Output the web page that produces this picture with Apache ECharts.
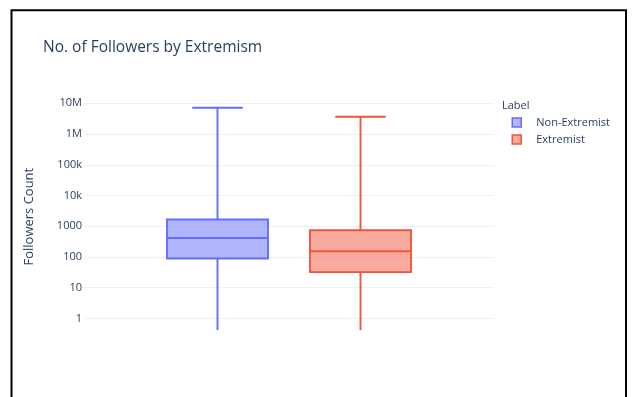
<!DOCTYPE html>
<html>
<head>
<meta charset="utf-8">
<title>No. of Followers by Extremism</title>
<script src="https://cdn.jsdelivr.net/npm/echarts@6/dist/echarts.min.js"></script>
<style>
  html, body { margin: 0; padding: 0; background: #ffffff; }
  #chart { width: 632px; height: 397px; }
</style>
</head>
<body>
<div id="chart"></div>
<script>
// Follower-count distribution per group (five-number summary)
const groups = ['Non-Extremist', 'Extremist'];
const whiskerLow = [0, 0];            // accounts with zero followers
const q1 = [89, 32];
const median = [416, 153];
const q3 = [1650, 741];
const whiskerHigh = [7200000, 3660000];

// Tick labels for each decade of the log axis, 10^0 .. 10^7
const tickLabels = ['1', '10', '100', '1000', '10k', '100k', '1M', '10M'];

const groupColors = ['#636efa', '#EF553B'];
const groupFills = ['rgba(99,110,250,0.5)', 'rgba(239,85,59,0.5)'];

const Y_MIN = 0.42;
const Y_MAX = 1e7;
const TEXT = '#2a3f5f';
const FONT = '"Open Sans", "Noto Sans", sans-serif';

// Grouped boxes share one category slot; each sits at a fixed offset in the band
const BOX_OFFSET = [-0.1744, 0.1744];
const BOX_WIDTH = 0.2463;
const LINE_W = 1.9;

function makeBoxRenderer(idx) {
  return function (params, api) {
    const band = api.size([1, 1], [0, 1])[0];
    const cx = api.coord([0, 1])[0] + BOX_OFFSET[idx] * band;
    const half = band * BOX_WIDTH / 2;
    const capHalf = half / 2;
    const yOf = (dim) => api.coord([0, Math.max(api.value(dim), Y_MIN)])[1];
    const yLow = yOf(1), yQ1 = yOf(2), yMed = yOf(3), yQ3 = yOf(4), yHigh = yOf(5);
    const stroke = groupColors[idx];
    const lineStyle = { stroke: stroke, lineWidth: LINE_W, fill: null };
    const children = [
      { type: 'line', shape: { x1: cx, y1: yQ3, x2: cx, y2: yHigh }, style: lineStyle },
      { type: 'line', shape: { x1: cx, y1: yQ1, x2: cx, y2: yLow }, style: lineStyle },
      { type: 'line', shape: { x1: cx - capHalf, y1: yHigh, x2: cx + capHalf, y2: yHigh }, style: lineStyle },
      { type: 'rect', shape: { x: cx - half, y: yQ3, width: 2 * half, height: yQ1 - yQ3 },
        style: { fill: groupFills[idx], stroke: stroke, lineWidth: LINE_W } },
      { type: 'line', shape: { x1: cx - half, y1: yMed, x2: cx + half, y2: yMed }, style: lineStyle }
    ];
    if (api.value(1) > Y_MIN) {
      children.push({ type: 'line', shape: { x1: cx - capHalf, y1: yLow, x2: cx + capHalf, y2: yLow }, style: lineStyle });
    }
    return { type: 'group', children: children };
  };
}

const series = groups.map(function (name, i) {
  return {
    name: name,
    type: 'custom',
    clip: true,
    itemStyle: { color: groupColors[i] },
    encode: { x: 0, y: [1, 2, 3, 4, 5] },
    data: [[0, whiskerLow[i], q1[i], median[i], q3[i], whiskerHigh[i]]],
    renderItem: makeBoxRenderer(i)
  };
});

function formatTick(v) {
  const e = Math.log10(v);
  const k = Math.round(e);
  if (Math.abs(e - k) > 1e-6 || k < 0 || k >= tickLabels.length) return '';
  return tickLabels[k];
}

const chart = echarts.init(document.getElementById('chart'), null, { renderer: 'canvas' });
chart.setOption({
  animation: false,
  backgroundColor: '#ffffff',
  textStyle: { fontFamily: FONT },
  title: [
    {
      text: 'No. of Followers by Extremism',
      left: 43, top: 40, padding: 0,
      textStyle: { fontFamily: FONT, fontSize: 15.5, fontWeight: 'normal', color: TEXT }
    },
    {
      text: 'Label',
      left: 502, top: 100, padding: 0,
      textStyle: { fontFamily: FONT, fontSize: 11, fontWeight: 'normal', color: TEXT }
    }
  ],
  legend: {
    orient: 'vertical',
    left: 511.5, top: 117, padding: 0,
    itemWidth: 9, itemHeight: 9, itemGap: 6,
    icon: 'rect',
    textStyle: { fontFamily: FONT, fontSize: 11, color: TEXT, padding: [0, 0, 0, 10] },
    data: groups.map(function (name, i) {
      return { name: name, itemStyle: { color: groupFills[i], borderColor: groupColors[i], borderWidth: 1.5 } };
    })
  },
  grid: { left: 84, right: 138, top: 103.3, bottom: 67, containLabel: false, outerBoundsMode: 'none' },
  xAxis: {
    type: 'category',
    data: [''],
    axisLine: { show: false },
    axisTick: { show: false },
    axisLabel: { show: false },
    splitLine: { show: false }
  },
  yAxis: {
    type: 'log',
    logBase: 10,
    min: Y_MIN,
    max: Y_MAX,
    name: 'Followers Count',
    nameLocation: 'middle',
    nameGap: 48,
    nameTextStyle: { fontFamily: FONT, fontSize: 13, color: TEXT },
    axisLine: { show: false },
    axisTick: { show: false },
    axisLabel: { fontFamily: FONT, fontSize: 11, color: TEXT, margin: 2, showMinLabel: false, formatter: formatTick },
    splitLine: { show: true, showMinLine: false, lineStyle: { color: '#EBF0F8', width: 1 } }
  },
  graphic: [{
    type: 'rect',
    silent: true,
    z: 100,
    shape: { x: 11.5, y: 10.3, width: 614.5, height: 420 },
    style: { fill: null, stroke: '#000000', lineWidth: 2 }
  }],
  series: series
});
</script>
</body>
</html>
